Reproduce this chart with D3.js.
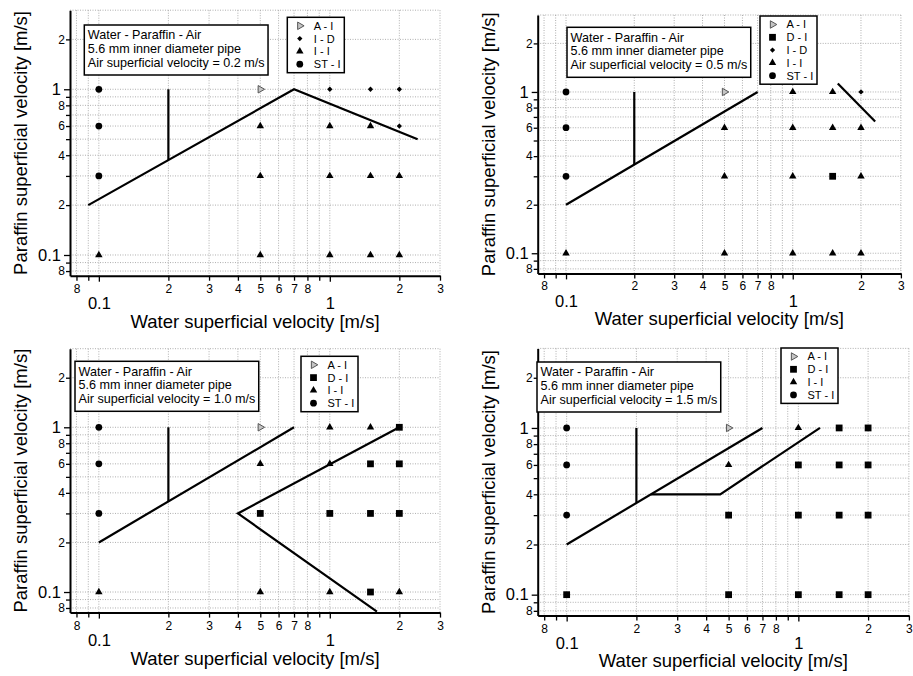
<!DOCTYPE html>
<html>
<head>
<meta charset="utf-8">
<script src="https://cdn.jsdelivr.net/npm/d3@7"></script>
<style>
  body { margin: 0; background: #fff; }
  svg { display: block; font-family: "Liberation Sans", Arial, sans-serif; }
  .grid line { stroke: #9a9a9a; stroke-width: 0.8; stroke-dasharray: 1,1.5; }
  .axis path { stroke: #000; stroke-width: 2; }
  .axis line { stroke: #000; stroke-width: 1.3; }
  .axis text { fill: #000; }
</style>
</head>
<body>
<svg id="mainSVG" width="913" height="676"></svg>
<script>
// measured operating points
const waterVelocity = [0.1, 0.5, 1.0, 1.5, 2.0];
const paraffinVelocity = [1.0, 0.6, 0.3, 0.1];
const airVelocity = ["0.2", "0.5", "1.0", "1.5"];

// flow regime for each water velocity (rows) and paraffin velocity (columns)
const regimes02 = [
    ["ST-I", "ST-I", "ST-I", "I-I"],
    ["A-I", "I-I", "I-I", "I-I"],
    ["I-D", "I-I", "I-I", "I-I"],
    ["I-D", "I-I", "I-I", "I-I"],
    ["I-D", "I-D", "I-I", "I-I"]];
const regimes05 = [
    ["ST-I", "ST-I", "ST-I", "I-I"],
    ["A-I", "I-I", "I-I", "I-I"],
    ["I-I", "I-I", "I-I", "I-I"],
    ["I-I", "I-I", "D-I", "I-I"],
    ["I-D", "I-I", "I-I", "I-I"]];
const regimes10 = [
    ["ST-I", "ST-I", "ST-I", "I-I"],
    ["A-I", "I-I", "D-I", "I-I"],
    ["I-I", "I-I", "D-I", "I-I"],
    ["I-I", "D-I", "D-I", "D-I"],
    ["D-I", "D-I", "D-I", "I-I"]];
const regimes15 = [
    ["ST-I", "ST-I", "ST-I", "D-I"],
    ["A-I", "I-I", "D-I", "D-I"],
    ["I-I", "D-I", "D-I", "D-I"],
    ["D-I", "D-I", "D-I", "D-I"],
    ["D-I", "D-I", "D-I", "D-I"]];

const legend02 = ["A-I", "I-D", "I-I", "ST-I"];
const legend05 = ["A-I", "D-I", "I-D", "I-I", "ST-I"];
const legend10 = ["A-I", "D-I", "I-I", "ST-I"];
const legend15 = ["A-I", "D-I", "I-I", "ST-I"];

// transition boundaries [water, paraffin]
const bounds02 = [[[0.09, 0.2], [0.70, 1.0], [2.4, 0.5]], [[0.2, 1.0], [0.2, 0.375]]];
const bounds05 = [[[0.1, 0.2], [0.70, 1.0]], [[0.2, 1.0], [0.2, 0.355]], [[1.58, 1.13], [2.31, 0.655]]];
const bounds10 = [[[0.1, 0.2], [0.70, 1.0]], [[0.2, 1.0], [0.2, 0.356]], [[2.0, 1.0], [0.4, 0.3], [1.6, 0.076]]];
const bounds15 = [[[0.1, 0.2], [0.70, 1.0]], [[0.2, 1.0], [0.2, 0.356]], [[0.231, 0.4], [0.46, 0.4], [1.24, 1.0]]];

const xTickValues = [0.08, 0.09, 0.1, 0.2, 0.3, 0.4, 0.5, 0.6, 0.7, 0.8, 0.9, 1, 2, 3];
const yTickValues = [0.08, 0.09, 0.1, 0.2, 0.3, 0.4, 0.5, 0.6, 0.7, 0.8, 0.9, 1, 2, 3];
const xMinorLabels = [0.08, 0.2, 0.3, 0.4, 0.5, 0.6, 0.7, 0.8, 2, 3];
const yMinorLabels = [0.08, 0.2, 0.4, 0.6, 0.8, 2];
const majorTicks = [0.1, 1];

const panels = [
    {air: airVelocity[0], regimes: regimes02, legend: legend02, bounds: bounds02},
    {air: airVelocity[1], regimes: regimes05, legend: legend05, bounds: bounds05},
    {air: airVelocity[2], regimes: regimes10, legend: legend10, bounds: bounds10},
    {air: airVelocity[3], regimes: regimes15, legend: legend15, bounds: bounds15}
];

// plot frames in the page
const layout = [
    {left: 70, top: 10.2, width: 370, height: 265.5, note: [14.3, 14.8], key: [217.3, 7.1]},
    {left: 537.7, top: 15, width: 363.2, height: 258.4, note: [29.3, 12.3], key: [222.3, 1]},
    {left: 70, top: 348.7, width: 370, height: 263.9, note: [5, 12.6], key: [231, 7.6]},
    {left: 537.7, top: 348.4, width: 371.2, height: 267.1, note: [-0.7, 13.6], key: [243.3, -0.4]}
];

const svg = d3.select("#mainSVG");
panels.forEach((p, i) => drawPanel(p, layout[i]));

function markerPath(type) {
    if (type === "ST-I") return d3.symbol(d3.symbolCircle, 36)();
    if (type === "D-I") return d3.symbol(d3.symbolSquare, 46)();
    if (type === "I-D") return d3.symbol(d3.symbolSquare, 14)();
    return d3.symbol(d3.symbolTriangle, 24)();
}

function drawMarker(sel, type, px, py) {
    let rot = 0;
    if (type === "I-D") rot = 45;
    if (type === "A-I") rot = 90;
    sel.append("path")
        .attr("d", markerPath(type))
        .attr("transform", `translate(${px},${py}) rotate(${rot})`)
        .attr("fill", type === "A-I" ? "#c4c4c4" : "#000")
        .attr("stroke", type === "A-I" ? "#555" : "none")
        .attr("stroke-width", 1);
}

function drawPanel(p, L) {
    const g = svg.append("g").attr("transform", `translate(${L.left},${L.top})`);
    const x = d3.scaleLog().domain([0.075, 3]).range([0, L.width]);
    const y = d3.scaleLog().domain([0.075, 3]).range([L.height, 0]);

    // dotted grid
    const grid = g.append("g").attr("class", "grid");
    grid.selectAll(".gx").data(xTickValues).join("line").attr("class", "gx")
        .attr("x1", d => x(d)).attr("x2", d => x(d))
        .attr("y1", 0).attr("y2", L.height);
    grid.selectAll(".gy").data(yTickValues).join("line").attr("class", "gy")
        .attr("y1", d => y(d)).attr("y2", d => y(d))
        .attr("x1", 0).attr("x2", L.width);

    // axes
    const xa = g.append("g").attr("class", "axis")
        .attr("transform", `translate(0,${L.height})`)
        .call(d3.axisBottom(x).tickValues(xTickValues).tickSizeOuter(0)
            .tickFormat(d => majorTicks.includes(d) ? d3.format("")(d) : xMinorLabels.includes(d) ? String(Math.round(d / Math.pow(10, Math.floor(Math.log10(d) + 1e-9)))) : ""));
    xa.selectAll(".tick line").attr("y2", d => majorTicks.includes(d) ? 6 : 5);
    xa.selectAll(".tick text")
        .attr("y", d => majorTicks.includes(d) ? 21.5 : 8.5)
        .style("font-size", d => majorTicks.includes(d) ? "16.5px" : "12px");

    const ya = g.append("g").attr("class", "axis")
        .call(d3.axisLeft(y).tickValues(yTickValues.filter(d => d < 2.9)).tickSizeOuter(0)
            .tickFormat(d => majorTicks.includes(d) ? d3.format("")(d) : yMinorLabels.includes(d) ? String(Math.round(d / Math.pow(10, Math.floor(Math.log10(d) + 1e-9)))) : ""));
    ya.selectAll(".tick line").attr("x2", d => majorTicks.includes(d) ? -6 : -4);
    ya.selectAll(".tick text")
        .attr("x", d => majorTicks.includes(d) ? -9 : -5)
        .style("font-size", d => majorTicks.includes(d) ? "16.5px" : "12px");

    // regime boundaries
    const line = d3.line().x(d => x(d[0])).y(d => y(d[1]));
    g.append("g").selectAll("path").data(p.bounds).join("path")
        .attr("d", line)
        .attr("fill", "none")
        .attr("stroke", "#000")
        .attr("stroke-width", 2.2);

    // measured points
    const pts = g.append("g");
    waterVelocity.forEach((w, i) => {
        paraffinVelocity.forEach((o, j) => {
            drawMarker(pts, p.regimes[i][j], x(w), y(o));
        });
    });

    // axis titles
    g.append("text")
        .attr("x", L.width / 2).attr("y", L.height + 52)
        .attr("text-anchor", "middle")
        .style("font-size", "18.5px")
        .text("Water superficial velocity [m/s]");
    g.append("text")
        .attr("transform", `translate(-43,${L.height / 2}) rotate(-90)`)
        .attr("text-anchor", "middle")
        .style("font-size", "18.5px")
        .text("Paraffin superficial velocity [m/s]");

    // annotation box
    const note = g.append("g").attr("transform", `translate(${L.note[0]},${L.note[1]})`);
    const noteRect = note.append("rect").attr("fill", "#fff").attr("stroke", "#000").attr("stroke-width", 1.5);
    const noteLines = ["Water - Paraffin - Air", "5.6 mm inner diameter pipe",
        "Air superficial velocity = " + p.air + " m/s"];
    const nt = note.selectAll("text").data(noteLines).join("text")
        .attr("x", 3.5).attr("y", (d, i) => 14.3 + i * 13.8)
        .style("font-size", "12.6px")
        .text(d => d);
    const nw = d3.max(nt.nodes(), n => n.getComputedTextLength());
    noteRect.attr("width", nw + 7).attr("height", 50);

    // legend box
    const key = g.append("g").attr("transform", `translate(${L.key[0]},${L.key[1]})`);
    key.append("rect")
        .attr("width", 57).attr("height", 17 + (p.legend.length - 1) * 12.8)
        .attr("fill", "#fff").attr("stroke", "#000").attr("stroke-width", 1.5);
    p.legend.forEach((r, i) => {
        drawMarker(key, r, 12.5, 8.5 + i * 12.8);
        key.append("text")
            .attr("x", 26.5).attr("y", 8.5 + i * 12.8).attr("dy", "0.36em")
            .style("font-size", "11px")
            .text(r.replace("-", " - "));
    });
}
</script>
</body>
</html>
